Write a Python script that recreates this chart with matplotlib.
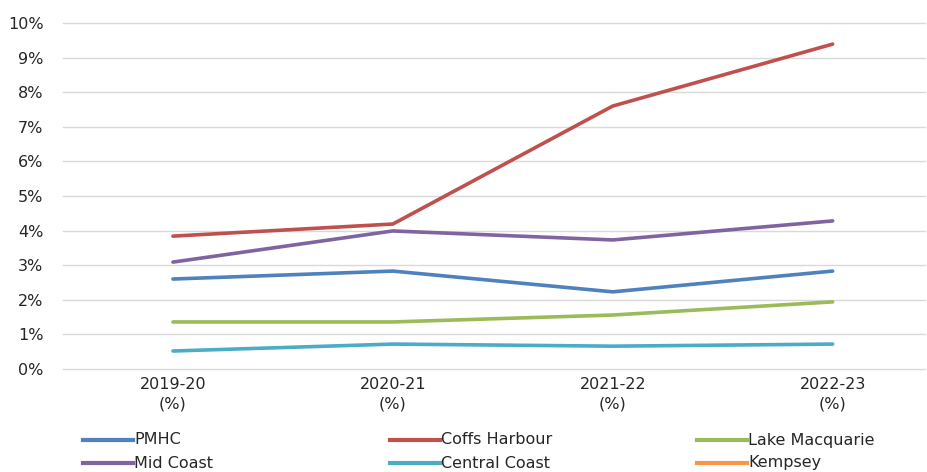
import numpy as np
import matplotlib
matplotlib.use("Agg")
import matplotlib.pyplot as plt
from matplotlib.lines import Line2D

plt.rcParams['font.family'] = ['DejaVu Sans']

years = ["2019-20", "2020-21", "2021-22", "2022-23"]
tick_labels = [f"{y}\n(%)" for y in years]

pmhc = [2.60, 2.83, 2.23, 2.83]
coffs_harbour = [3.84, 4.19, 7.60, 9.39]
lake_macquarie = [1.36, 1.36, 1.56, 1.94]
mid_coast = [3.09, 3.99, 3.73, 4.28]
central_coast = [0.52, 0.72, 0.66, 0.72]
kempsey = [np.nan, np.nan, np.nan, np.nan]

series = [
    ("PMHC", pmhc, "#4F81BD"),
    ("Coffs Harbour", coffs_harbour, "#C0504D"),
    ("Lake Macquarie", lake_macquarie, "#9BBB59"),
    ("Mid Coast", mid_coast, "#8064A2"),
    ("Central Coast", central_coast, "#4BACC6"),
    ("Kempsey", kempsey, "#F79646"),
]

W, H = 928, 472
FS = 11.5
fig = plt.figure(figsize=(W / 100, H / 100), dpi=100)
ax = fig.add_axes([63 / W, 1 - 369 / H, (925 - 63) / W, (369 - 23) / H])

x = np.arange(len(years))
for name, vals, col in series:
    ax.plot(x, vals, color=col, lw=2.6, solid_capstyle="round", solid_joinstyle="miter", zorder=3)

ax.set_ylim(0, 10)
ax.set_xlim(-0.5, 3.42)
ax.set_yticks(np.arange(0, 11, 1))
ax.set_yticklabels([f"{v}%" for v in range(11)])
ax.set_xticks(x)
ax.set_xticklabels(tick_labels, linespacing=1.35)
ax.grid(axis="y", color="#d9d9d9", lw=1.0, zorder=0)
for gl in ax.get_ygridlines():
    gl.set_clip_on(False)
for s in ax.spines.values():
    s.set_visible(False)
ax.tick_params(axis="both", length=0, labelsize=FS, colors="#404040", labelcolor="#262626")
ax.tick_params(axis="y", pad=14)
ax.tick_params(axis="x", pad=6)

# legend drawn in three columns below the axes
col_x = [83, 390, 697]
row_y = [440, 463]
for i, (name, vals, col) in enumerate(series):
    cx = col_x[i % 3]
    ry = row_y[i // 3]
    fig.add_artist(Line2D([cx / W, (cx + 50) / W], [1 - ry / H, 1 - ry / H],
                          color=col, lw=3, transform=fig.transFigure))
    fig.text((cx + 51) / W, 1 - ry / H, name, fontsize=FS, color="#262626",
             ha="left", va="center")

fig.savefig("out.png", dpi=100, facecolor="white")
